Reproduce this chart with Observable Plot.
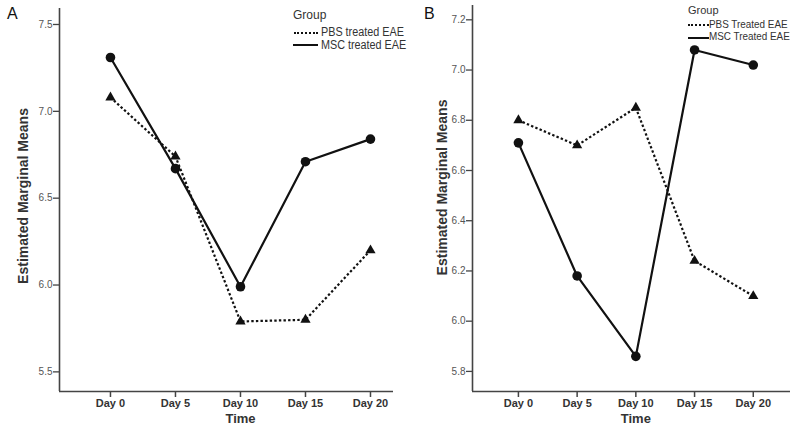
<!DOCTYPE html>
<html><head><meta charset="utf-8">
<script src="https://cdn.jsdelivr.net/npm/d3@7"></script>
<script src="https://cdn.jsdelivr.net/npm/@observablehq/plot@0.6"></script>
<style>
body{margin:0;background:#fff;font-family:"Liberation Sans",Arial,sans-serif;}
#wrap{position:relative;width:800px;height:432px;overflow:hidden;background:#fff;}
.panel{position:absolute;top:0;}
.tag{position:absolute;font-size:16px;color:#111;line-height:16px;}
.lg{position:absolute;color:#333;white-space:nowrap;transform-origin:0 50%;}
.sw{position:absolute;height:0;}
</style></head><body>
<div id="wrap"></div>
<script>
const days = [0, 5, 10, 15, 20];
const dayLabels = ["Day 0", "Day 5", "Day 10", "Day 15", "Day 20"];
const groupsA = ["PBS treated EAE", "MSC treated EAE"];
const groupsB = ["PBS Treated EAE", "MSC Treated EAE"];
const pbsA = [7.08, 6.74, 5.79, 5.80, 6.20];
const mscA = [7.31, 6.67, 5.99, 6.71, 6.84];
const pbsB = [6.80, 6.70, 6.85, 6.24, 6.10];
const mscB = [6.71, 6.18, 5.86, 7.08, 7.02];
const yTicksA = [5.5, 6.0, 6.5, 7.0, 7.5];
const yTicksB = [5.8, 6.0, 6.2, 6.4, 6.6, 6.8, 7.0, 7.2];

const FONT = "Liberation Sans, Arial, sans-serif";
const INK = "#111";

function panel(o) {
  const rows = days.map((d, i) => ({day: d, pbs: o.pbs[i], msc: o.msc[i]}));
  return Plot.plot({
    width: 400, height: 432,
    marginLeft: o.mL, marginRight: o.mR, marginTop: o.mT, marginBottom: o.mB,
    style: {fontFamily: FONT, background: "transparent", overflow: "visible"},
    x: {domain: o.xDomain},
    y: {domain: o.yDomain},
    marks: [
      Plot.ruleX([o.xDomain[0]], {stroke: "#444", strokeWidth: 1.6}),
      Plot.ruleY([o.yDomain[0]], {stroke: "#444", strokeWidth: 1.6}),
      Plot.axisY({ticks: o.yTicks, tickFormat: d3.format(".1f"), tickSize: 6, tickPadding: 1,
        fontSize: 10, color: "#555", stroke: "#444", strokeWidth: 1.3, label: null}),
      Plot.axisX({ticks: days, tickFormat: d => dayLabels[days.indexOf(d)], tickSize: 6, tickPadding: 2,
        fontSize: 11, fontWeight: "bold", color: "#333", stroke: "#444", strokeWidth: 1.5, label: null}),
      Plot.text(["Time"], {x: days[2], frameAnchor: "bottom", dy: 31, fontWeight: "bold", fontSize: 13, fill: "#333"}),
      Plot.text(["Estimated Marginal Means"], {frameAnchor: "left", textAnchor: "middle", rotate: -90,
        dx: o.ylDx, dy: o.ylDy, fontWeight: "bold", fontSize: 14, fill: "#333"}),
      Plot.line(rows, {x: "day", y: "pbs", stroke: INK, strokeWidth: 2.2, strokeDasharray: "2.4,2.2", strokeLinecap: "butt"}),
      Plot.line(rows, {x: "day", y: "msc", stroke: INK, strokeWidth: 2.2}),
      Plot.dot(rows, {x: "day", y: "pbs", symbol: "triangle", fill: INK, r: 3.8}),
      Plot.dot(rows, {x: "day", y: "msc", symbol: "circle", fill: INK, r: 4.8})
    ]
  });
}

const wrap = document.getElementById("wrap");

const pA = panel({pbs: pbsA, msc: mscA, yTicks: yTicksA, yDomain: [5.387, 7.592], xDomain: [-3.92, 21.77],
  mL: 59, mR: 7, mT: 8, mB: 41, ylDx: -36, ylDy: -4});
pA.classList.add("panel"); pA.style.left = "0px";
wrap.appendChild(pA);

const pB = panel({pbs: pbsB, msc: mscB, yTicks: yTicksB, yDomain: [5.72, 7.257], xDomain: [-3.91, 23.17],
  mL: 72, mR: 10, mT: 5, mB: 41, ylDx: -30, ylDy: -11});
pB.classList.add("panel"); pB.style.left = "400px";
wrap.appendChild(pB);

function addText(cls, txt, left, top, size, sx) {
  const d = document.createElement("div");
  d.className = cls; d.textContent = txt;
  d.style.left = left + "px"; d.style.top = top + "px";
  if (size) { d.style.fontSize = size + "px"; d.style.lineHeight = size + "px"; }
  if (sx) d.style.transform = "scaleX(" + sx + ")";
  wrap.appendChild(d);
  return d;
}
function addSwatch(left, top, w, dashed) {
  const d = document.createElement("div");
  d.className = "sw";
  d.style.left = left + "px"; d.style.top = (top - 1) + "px"; d.style.width = w + "px";
  d.style.borderTop = "2px " + (dashed ? "dotted" : "solid") + " " + INK;
  wrap.appendChild(d);
}

addText("tag", "A", 7, 6);
addText("tag", "B", 424, 6);

// legend A
addText("lg", "Group", 293, 9, 12);
addSwatch(294, 33, 24, true);
addText("lg", groupsA[0], 321, 26, 12, 0.9);
addSwatch(293, 45, 25, false);
addText("lg", groupsA[1], 321, 39, 12, 0.9);

// legend B
addText("lg", "Group", 688, 5, 11);
addSwatch(688, 25, 21, true);
addText("lg", groupsB[0], 709, 19, 11.5, 0.86);
addSwatch(688, 38, 21, false);
addText("lg", groupsB[1], 709, 31, 11.5, 0.86);
</script>
</body></html>
